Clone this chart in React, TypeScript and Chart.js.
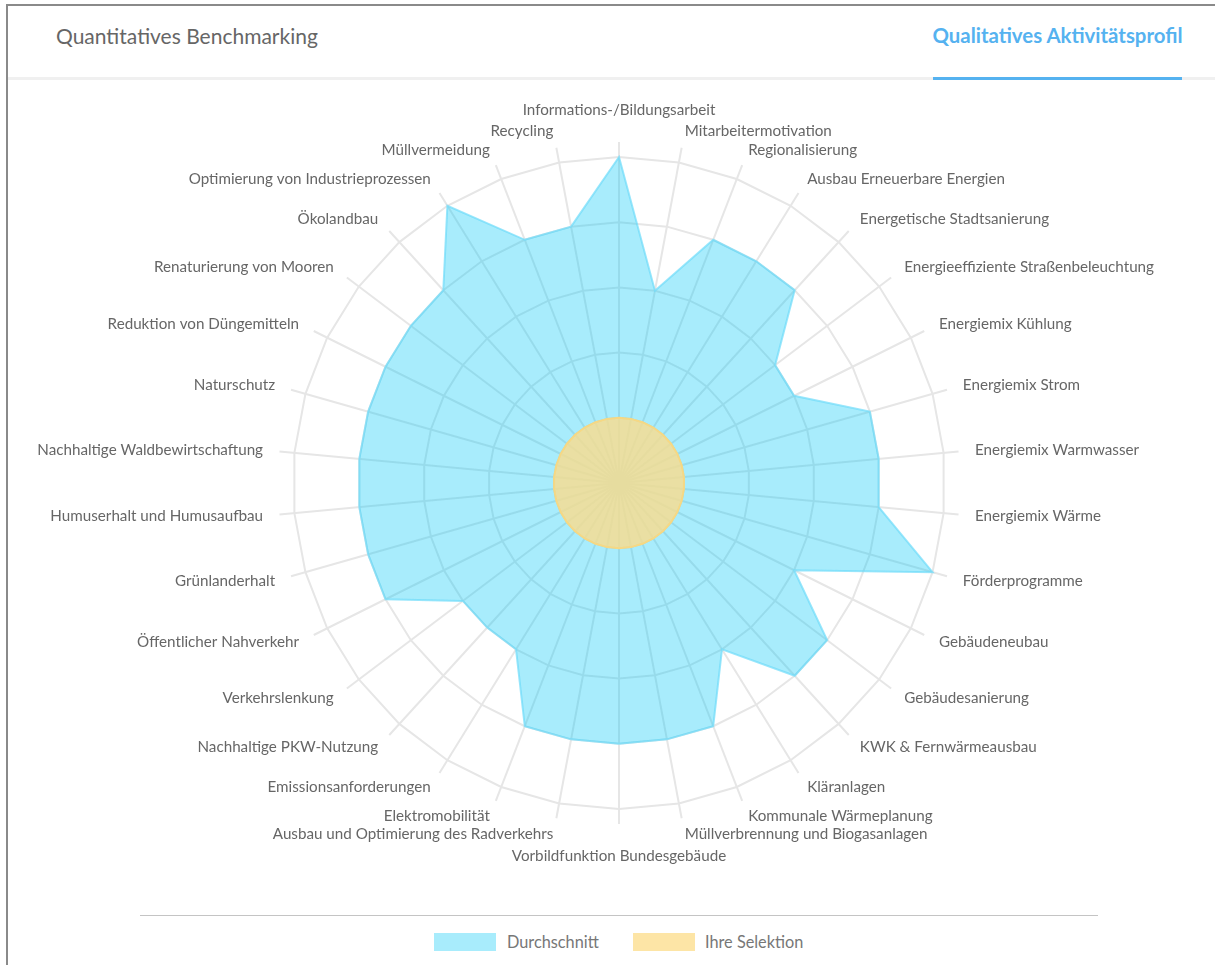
import React, { useEffect, useRef } from "react";
import { Chart, registerables } from "chart.js";

Chart.register(...registerables);

const categories: string[] = [
  "Informations-/Bildungsarbeit",
  "Mitarbeitermotivation",
  "Regionalisierung",
  "Ausbau Erneuerbare Energien",
  "Energetische Stadtsanierung",
  "Energieeffiziente Straßenbeleuchtung",
  "Energiemix Kühlung",
  "Energiemix Strom",
  "Energiemix Warmwasser",
  "Energiemix Wärme",
  "Förderprogramme",
  "Gebäudeneubau",
  "Gebäudesanierung",
  "KWK & Fernwärmeausbau",
  "Kläranlagen",
  "Kommunale Wärmeplanung",
  "Müllverbrennung und Biogasanlagen",
  "Vorbildfunktion Bundesgebäude",
  "Ausbau und Optimierung des Radverkehrs",
  "Elektromobilität",
  "Emissionsanforderungen",
  "Nachhaltige PKW-Nutzung",
  "Verkehrslenkung",
  "Öffentlicher Nahverkehr",
  "Grünlanderhalt",
  "Humuserhalt und Humusaufbau",
  "Nachhaltige Waldbewirtschaftung",
  "Naturschutz",
  "Reduktion von Düngemitteln",
  "Renaturierung von Mooren",
  "Ökolandbau",
  "Optimierung von Industrieprozessen",
  "Müllvermeidung",
  "Recycling",
];

const durchschnitt: number[] = [
  5, 3, 4, 4, 4, 3, 3, 4, 4, 4, 5, 3, 4, 4, 3, 4, 4,
  4, 4, 4, 3, 3, 3, 4, 4, 4, 4, 4, 4, 4, 4, 5, 4, 4,
];

const ihreSelektion: number[] = [
  1, 1, 1, 1, 1, 1, 1, 1, 1, 1, 1, 1, 1, 1, 1, 1, 1,
  1, 1, 1, 1, 1, 1, 1, 1, 1, 1, 1, 1, 1, 1, 1, 1, 1,
];

const seriesNames = ["Durchschnitt", "Ihre Selektion"];
const tabs = ["Quantitatives Benchmarking", "Qualitatives Aktivitätsprofil"];

const BLUE_FILL = "rgba(0, 200, 245, 0.34)";
const BLUE_LINE = "rgba(110, 220, 250, 0.7)";
const YELLOW_FILL = "rgba(250, 220, 140, 0.8)";
const YELLOW_LEGEND = "rgba(253, 229, 166, 1)";
const YELLOW_LINE = "rgba(246, 216, 132, 1)";
const FONT = "Lato, 'Open Sans', sans-serif";

const outerLabels = {
  id: "outerLabels",
  afterDraw(chart: any) {
    const scale = chart.scales.r;
    const ctx = chart.ctx;
    ctx.save();
    ctx.font = `15.2px ${FONT}`;
    ctx.fillStyle = "#666666";
    ctx.textBaseline = "middle";
    const ring = scale.getDistanceFromCenterForValue(5);
    categories.forEach((label, i) => {
      const a = scale.getIndexAngle(i);
      const s = Math.sin(a);
      const vertical = Math.abs(s) < 0.01;
      const p = scale.getPointPosition(i, ring + (vertical ? 47 : 31.5));
      ctx.textAlign = vertical ? "center" : s > 0 ? "left" : "right";
      ctx.fillText(label, p.x, p.y);
    });
    ctx.restore();
  },
};

function RadarChart() {
  const ref = useRef<HTMLCanvasElement | null>(null);
  useEffect(() => {
    if (!ref.current) return;
    const chart = new Chart(ref.current, {
      type: "radar",
      data: {
        labels: categories,
        datasets: [
          {
            label: seriesNames[0],
            data: durchschnitt,
            backgroundColor: BLUE_FILL,
            borderColor: BLUE_LINE,
            borderWidth: 2,
            pointRadius: 0,
            order: 2,
          },
          {
            label: seriesNames[1],
            data: ihreSelektion,
            backgroundColor: YELLOW_FILL,
            borderColor: YELLOW_LINE,
            borderWidth: 2,
            pointRadius: 0,
            order: 1,
          },
        ],
      },
      options: {
        responsive: false,
        animation: false,
        layout: { padding: { left: 270, top: 58, right: 253, bottom: 86 } },
        plugins: { legend: { display: false }, tooltip: { enabled: false } },
        elements: { line: { tension: 0 } },
        scales: {
          r: {
            min: 0,
            max: 5.23,
            ticks: { display: false, stepSize: 1, includeBounds: false },
            grid: { color: "#e6e6e6", lineWidth: 2 },
            angleLines: { color: "#e6e6e6", lineWidth: 2 },
            pointLabels: { display: false },
          },
        },
      },
      plugins: [outerLabels],
    });
    return () => chart.destroy();
  }, []);
  return (
    <canvas
      ref={ref}
      width={1205}
      height={826}
      style={{ position: "absolute", left: 8, top: 84, width: 1205, height: 826 }}
    />
  );
}

export default function App() {
  return (
    <div
      style={{
        position: "absolute",
        left: 0,
        top: 0,
        width: 1215,
        height: 965,
        overflow: "hidden",
        background: "#fff",
        fontFamily: FONT,
      }}
    >
      <div
        style={{
          position: "absolute",
          left: 6,
          top: 4,
          width: 1209,
          height: 961,
          borderLeft: "2px solid #8a8a8a",
          borderTop: "2px solid #8a8a8a",
          boxSizing: "border-box",
        }}
      />
      <div
        style={{
          position: "absolute",
          left: 8,
          top: 77,
          width: 1207,
          height: 3,
          background: "#f0f0f0",
        }}
      />
      <div
        style={{
          position: "absolute",
          left: 56,
          top: 24,
          fontSize: 21,
          lineHeight: "24px",
          color: "#666666",
          whiteSpace: "nowrap",
        }}
      >
        {tabs[0]}
      </div>
      <div
        style={{
          position: "absolute",
          left: 913,
          width: 289,
          top: 23,
          fontSize: 20.4,
          lineHeight: "24px",
          fontWeight: 700,
          color: "#55b2f0",
          textAlign: "center",
          whiteSpace: "nowrap",
        }}
      >
        {tabs[1]}
      </div>
      <div
        style={{
          position: "absolute",
          left: 933,
          top: 77,
          width: 249,
          height: 3,
          background: "#55b2f0",
        }}
      />
      <RadarChart />
      <div
        style={{
          position: "absolute",
          left: 140,
          top: 915,
          width: 958,
          height: 1,
          background: "#c4c4c4",
        }}
      />
      <div style={{ position: "absolute", left: 434, top: 933, width: 62, height: 18, background: BLUE_FILL }} />
      <div
        style={{
          position: "absolute",
          left: 507,
          top: 931,
          fontSize: 16.3,
          lineHeight: "22px",
          color: "#777777",
          whiteSpace: "nowrap",
        }}
      >
        {seriesNames[0]}
      </div>
      <div style={{ position: "absolute", left: 633, top: 933, width: 62, height: 18, background: YELLOW_LEGEND }} />
      <div
        style={{
          position: "absolute",
          left: 705,
          top: 931,
          fontSize: 16.3,
          lineHeight: "22px",
          color: "#777777",
          whiteSpace: "nowrap",
        }}
      >
        {seriesNames[1]}
      </div>
    </div>
  );
}
